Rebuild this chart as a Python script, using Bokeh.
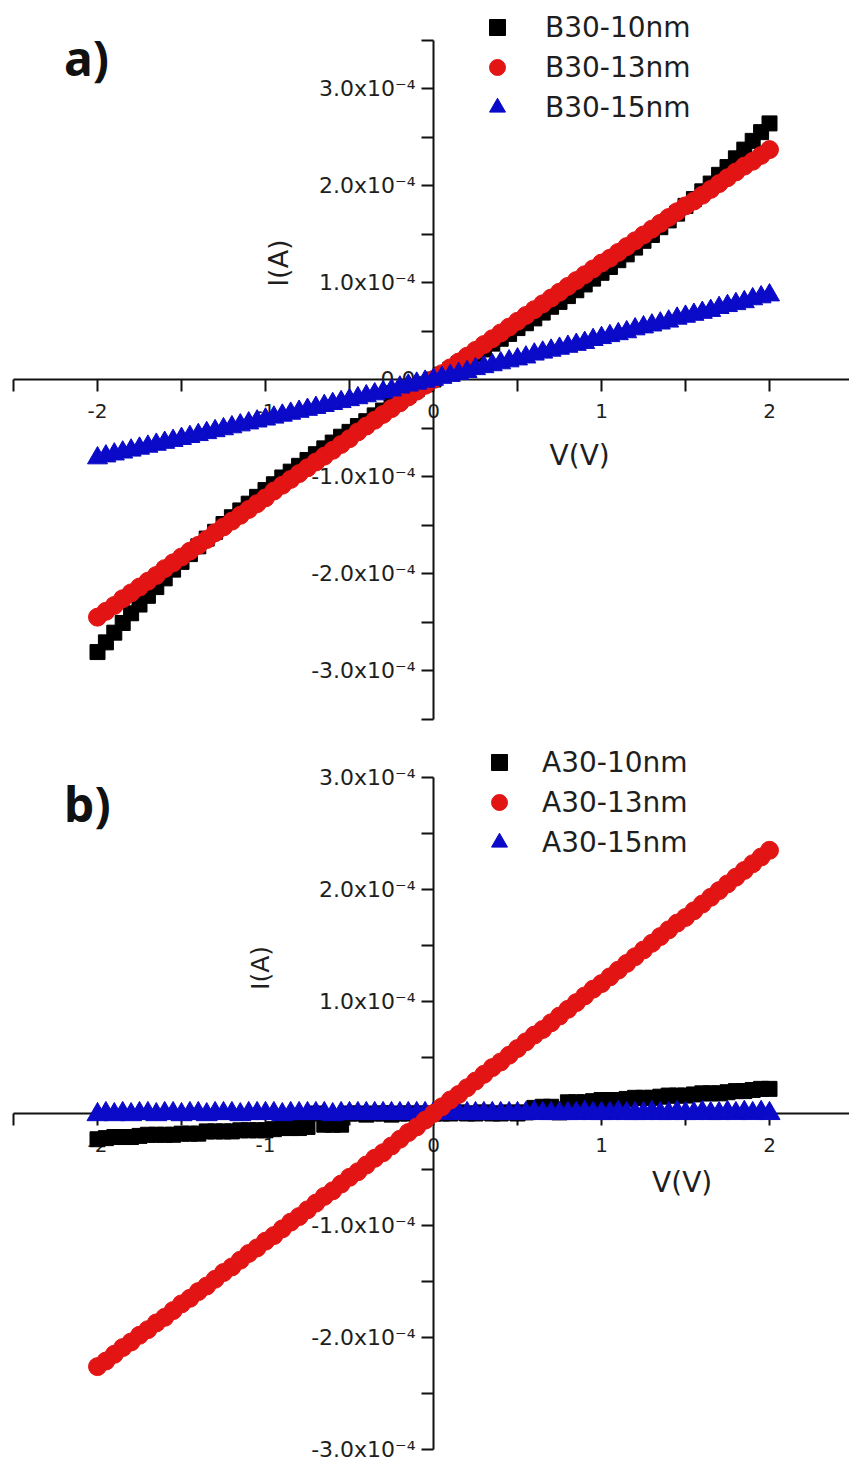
import math
from bokeh.plotting import figure
from bokeh.models import (Range1d, FixedTicker, CustomJSTickFormatter, Label,
                          Legend, LegendItem)
from bokeh.layouts import column
from bokeh.embed import file_html
from bokeh.resources import INLINE

# ---------------- data (current in units of 1e-4 A) ----------------
I_UNIT = 1e-4

V = [-2.00, -1.95, -1.90, -1.85, -1.80, -1.75, -1.70, -1.65, -1.60, -1.55,
     -1.50, -1.45, -1.40, -1.35, -1.30, -1.25, -1.20, -1.15, -1.10, -1.05,
     -1.00, -0.95, -0.90, -0.85, -0.80, -0.75, -0.70, -0.65, -0.60, -0.55,
     -0.50, -0.45, -0.40, -0.35, -0.30, -0.25, -0.20, -0.15, -0.10, -0.05,
     0.00, 0.05, 0.10, 0.15, 0.20, 0.25, 0.30, 0.35, 0.40, 0.45,
     0.50, 0.55, 0.60, 0.65, 0.70, 0.75, 0.80, 0.85, 0.90, 0.95,
     1.00, 1.05, 1.10, 1.15, 1.20, 1.25, 1.30, 1.35, 1.40, 1.45,
     1.50, 1.55, 1.60, 1.65, 1.70, 1.75, 1.80, 1.85, 1.90, 1.95, 2.00]

B30_10 = [-2.81, -2.71, -2.61, -2.51, -2.41, -2.32, -2.23, -2.14, -2.05, -1.96,
          -1.88, -1.80, -1.72, -1.64, -1.57, -1.49, -1.42, -1.35, -1.28, -1.21,
          -1.14, -1.08, -1.01, -0.95, -0.89, -0.83, -0.77, -0.71, -0.65, -0.59,
          -0.54, -0.48, -0.43, -0.37, -0.32, -0.26, -0.21, -0.16, -0.10, -0.05,
          0.00, 0.05, 0.10, 0.16, 0.21, 0.26, 0.31, 0.37, 0.42, 0.47,
          0.53, 0.58, 0.63, 0.69, 0.75, 0.80, 0.86, 0.92, 0.98, 1.04,
          1.10, 1.16, 1.23, 1.29, 1.36, 1.43, 1.49, 1.57, 1.64, 1.71,
          1.79, 1.86, 1.94, 2.02, 2.11, 2.19, 2.28, 2.37, 2.46, 2.55, 2.64]

B30_13 = [-2.45, -2.39, -2.33, -2.26, -2.20, -2.14, -2.08, -2.02, -1.95, -1.89,
          -1.83, -1.77, -1.71, -1.65, -1.58, -1.52, -1.46, -1.40, -1.34, -1.28,
          -1.22, -1.15, -1.09, -1.03, -0.97, -0.91, -0.85, -0.79, -0.73, -0.67,
          -0.61, -0.54, -0.48, -0.42, -0.36, -0.30, -0.24, -0.18, -0.12, -0.06,
          0.00, 0.06, 0.12, 0.18, 0.24, 0.30, 0.36, 0.42, 0.48, 0.54,
          0.60, 0.66, 0.72, 0.78, 0.84, 0.90, 0.96, 1.02, 1.08, 1.14,
          1.20, 1.25, 1.31, 1.37, 1.43, 1.49, 1.55, 1.61, 1.67, 1.73,
          1.79, 1.84, 1.90, 1.96, 2.02, 2.08, 2.14, 2.20, 2.25, 2.31, 2.37]

B30_15 = [-0.81, -0.79, -0.77, -0.75, -0.73, -0.71, -0.69, -0.67, -0.65, -0.63,
          -0.61, -0.59, -0.57, -0.55, -0.53, -0.51, -0.49, -0.47, -0.45, -0.43,
          -0.41, -0.39, -0.37, -0.35, -0.33, -0.31, -0.29, -0.27, -0.25, -0.23,
          -0.21, -0.19, -0.17, -0.15, -0.13, -0.11, -0.08, -0.06, -0.04, -0.02,
          0.00, 0.02, 0.04, 0.06, 0.08, 0.11, 0.13, 0.15, 0.17, 0.19,
          0.21, 0.23, 0.26, 0.28, 0.30, 0.32, 0.34, 0.36, 0.38, 0.41,
          0.43, 0.45, 0.47, 0.49, 0.52, 0.54, 0.56, 0.58, 0.60, 0.63,
          0.65, 0.67, 0.69, 0.71, 0.74, 0.76, 0.78, 0.80, 0.83, 0.85, 0.87]

A30_10 = [-0.23, -0.22, -0.21, -0.21, -0.21, -0.20, -0.19, -0.19, -0.19, -0.19,
          -0.18, -0.18, -0.18, -0.16, -0.16, -0.16, -0.16, -0.15, -0.15, -0.15,
          -0.15, -0.14, -0.13, -0.13, -0.13, -0.12, 0.00, -0.10, -0.10, -0.10,
          0.00, 0.00, -0.01, 0.00, 0.00, -0.01, 0.00, 0.00, 0.00, 0.00,
          0.00, 0.00, 0.00, 0.01, 0.00, 0.00, 0.01, 0.00, 0.00, 0.01,
          0.00, 0.01, 0.05, 0.06, 0.06, 0.01, 0.10, 0.10, 0.10, 0.11,
          0.12, 0.12, 0.12, 0.13, 0.14, 0.14, 0.14, 0.15, 0.16, 0.16,
          0.16, 0.17, 0.18, 0.18, 0.18, 0.19, 0.20, 0.20, 0.21, 0.22, 0.22]

A30_13 = [-2.26, -2.21, -2.15, -2.09, -2.04, -1.98, -1.93, -1.87, -1.82, -1.76,
          -1.70, -1.65, -1.59, -1.54, -1.48, -1.42, -1.37, -1.31, -1.25, -1.20,
          -1.14, -1.09, -1.03, -0.97, -0.92, -0.86, -0.80, -0.74, -0.69, -0.63,
          -0.57, -0.52, -0.46, -0.40, -0.35, -0.29, -0.23, -0.17, -0.12, -0.06,
          0.00, 0.06, 0.12, 0.17, 0.23, 0.29, 0.35, 0.41, 0.46, 0.52,
          0.58, 0.64, 0.70, 0.75, 0.81, 0.87, 0.93, 0.99, 1.05, 1.11,
          1.16, 1.22, 1.28, 1.34, 1.40, 1.46, 1.52, 1.58, 1.64, 1.70,
          1.75, 1.81, 1.87, 1.93, 1.99, 2.05, 2.11, 2.17, 2.23, 2.29, 2.35]

A30_15 = [-0.01, 0.00, -0.01, 0.00, -0.01, 0.00, 0.00, -0.01, 0.00, 0.00,
          -0.01, 0.00, 0.00, -0.01, 0.00, 0.00, 0.00, -0.01, 0.00, 0.00,
          0.00, 0.00, -0.01, 0.00, 0.00, 0.00, 0.00, 0.00, -0.01, 0.00,
          0.00, 0.00, 0.00, 0.00, 0.00, 0.00, 0.00, 0.00, 0.00, 0.00,
          0.00, 0.00, 0.00, 0.00, 0.00, 0.00, 0.00, 0.00, 0.00, 0.00,
          0.00, 0.00, 0.01, 0.00, 0.00, 0.00, 0.00, 0.00, 0.01, 0.00,
          0.00, 0.00, 0.01, 0.00, 0.00, 0.00, 0.01, 0.00, 0.00, 0.01,
          0.00, 0.00, 0.01, 0.00, 0.00, 0.01, 0.00, 0.01, 0.00, 0.01, 0.00]

X_TICKS = [-2, -1, 0, 1, 2]
X_MINOR = [-2.5, -1.5, -0.5, 0.5, 1.5, 2.5]
Y_TICKS = [-3, -2, -1, 0, 1, 2, 3]

NAMES_A = ["B30-10nm", "B30-13nm", "B30-15nm"]
NAMES_B = ["A30-10nm", "A30-13nm", "A30-15nm"]

# ---------------- styling ----------------
FONT = "DejaVu Sans"
TXT = "#1e1e1e"
BLACK = "#000000"
RED = "#e31414"
BLUE = "#0a0ac8"
W, H = 849, 733
X0_PX, X_PPU = 433, 168.0       # pixel of V=0, pixels per volt


def build(tag, names, series, draw_order, sizes, y0_px, y_ppu, y_bound,
          y_minor, tag_pos, ilab_pos, ilab_size, vlab_pos, legend_pos,
          legend_standoff):
    xr = Range1d(-X0_PX / X_PPU, (W - X0_PX) / X_PPU)
    yr = Range1d(-(H - y0_px) / y_ppu * I_UNIT, y0_px / y_ppu * I_UNIT)
    p = figure(width=W, height=H, x_range=xr, y_range=yr,
               output_backend="svg", toolbar_location=None,
               min_border=0, min_border_left=0, min_border_right=0,
               min_border_top=0, min_border_bottom=0)
    p.outline_line_color = None
    p.xgrid.visible = False
    p.ygrid.visible = False
    p.background_fill_color = "white"
    p.border_fill_color = "white"

    markers = ["square", "circle", "triangle"]
    colors = [BLACK, RED, BLUE]
    rends = [None, None, None]
    for k in draw_order:
        ys = [v * I_UNIT for v in series[k]]
        rends[k] = p.scatter(x=V, y=ys, marker=markers[k], size=sizes[k],
                             fill_color=colors[k], line_color=colors[k],
                             line_width=1, level="overlay")

    # axes crossing at the origin
    xa = p.xaxis[0]
    ya = p.yaxis[0]
    xa.fixed_location = 0
    ya.fixed_location = 0
    xa.bounds = (-2.5, 2.5)
    ya.bounds = y_bound
    xa.ticker = FixedTicker(ticks=X_TICKS, minor_ticks=X_MINOR)
    ya.ticker = FixedTicker(ticks=[t * I_UNIT for t in Y_TICKS],
                            minor_ticks=[t * I_UNIT for t in y_minor])
    xa.formatter = CustomJSTickFormatter(code="return tick.toFixed(0);")
    ya.formatter = CustomJSTickFormatter(code="""
        const v = tick * 1e4;
        if (Math.abs(v) < 1e-9) { return "0.0"; }
        return v.toFixed(1) + "x10\u207b\u2074";
    """)
    for ax in (xa, ya):
        ax.axis_line_color = "#111111"
        ax.axis_line_width = 2
        ax.major_tick_line_color = "#111111"
        ax.minor_tick_line_color = "#111111"
        ax.major_tick_line_width = 2
        ax.minor_tick_line_width = 2
        ax.major_tick_in = 0
        ax.major_tick_out = 12
        ax.minor_tick_in = 0
        ax.minor_tick_out = 12
        ax.major_label_text_font = FONT
        ax.major_label_text_color = TXT
    xa.major_label_text_font_size = "20px"
    xa.major_label_standoff = 12
    ya.major_label_text_font_size = "22px"
    ya.major_label_standoff = 6

    p.add_layout(Label(x=tag_pos[0], y=tag_pos[1], text=tag,
                       text_font="Noto Sans", text_font_style="bold",
                       text_font_size="48px", text_color="#111111",
                       text_align="center", text_baseline="middle"))
    p.add_layout(Label(x=ilab_pos[0], y=ilab_pos[1], text="I(A)",
                       angle=math.pi / 2, text_font=FONT,
                       text_font_size=ilab_size, text_color=TXT,
                       text_align="center", text_baseline="middle"))
    p.add_layout(Label(x=vlab_pos[0], y=vlab_pos[1], text="V(V)",
                       text_font=FONT, text_font_size="28px", text_color=TXT,
                       text_align="center", text_baseline="middle"))

    legend = Legend(items=[LegendItem(label=names[k], renderers=[rends[k]])
                           for k in range(3)],
                    location=legend_pos, orientation="vertical",
                    glyph_width=40, glyph_height=40, label_height=40,
                    label_standoff=legend_standoff, spacing=0, padding=0,
                    margin=0, border_line_color=None,
                    background_fill_alpha=0,
                    label_text_font=FONT, label_text_font_size="28px",
                    label_text_color=TXT)
    p.add_layout(legend)
    return p


pa = build("a)", NAMES_A, [B30_10, B30_13, B30_15], [0, 1, 2], [15, 18, 20],
           y0_px=379, y_ppu=97.0, y_bound=(-3.5e-4, 3.5e-4),
           y_minor=[-3.5, -2.5, -1.5, -0.5, 0.5, 1.5, 2.5, 3.5],
           tag_pos=(-2.065, 3.32e-4), ilab_pos=(-0.92, 1.2e-4),
           ilab_size="27px", vlab_pos=(0.87, -0.78e-4),
           legend_pos=(477, 606), legend_standoff=28)

pb = build("b)", NAMES_B, [A30_10, A30_13, A30_15], [0, 2, 1], [15, 18, 21],
           y0_px=380, y_ppu=112.0, y_bound=(-3.0e-4, 3.0e-4),
           y_minor=[-2.5, -1.5, -0.5, 0.5, 1.5, 2.5],
           tag_pos=(-2.06, 2.77e-4), ilab_pos=(-1.03, 1.3e-4),
           ilab_size="25px", vlab_pos=(1.48, -0.62e-4),
           legend_pos=(479, 604), legend_standoff=23)

layout = column(pa, pb, spacing=0)
with open("out.html", "w", encoding="utf-8") as f:
    f.write(file_html(layout, INLINE))
